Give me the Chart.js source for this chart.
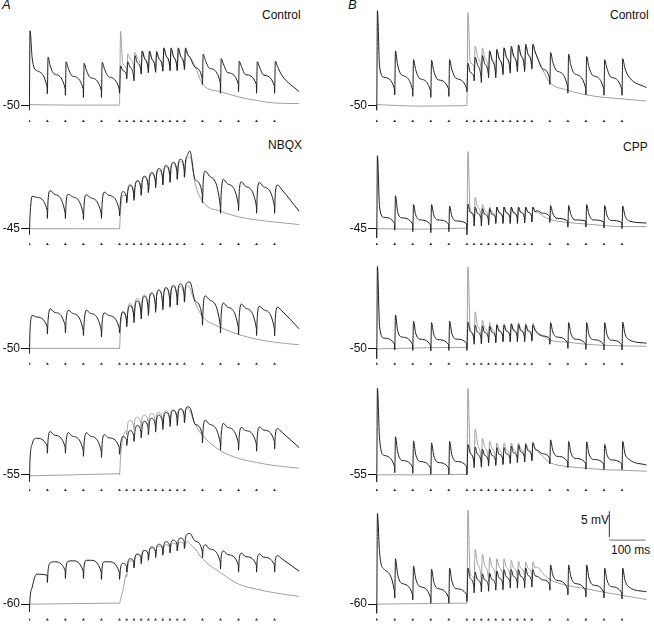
<!DOCTYPE html>
<html lang="en">
<head>
<meta charset="UTF-8">
<title>EPSP trains</title>
<script src="https://cdn.jsdelivr.net/npm/chart.js"></script>
<style>
  body { margin: 0; background: #fff; }
  #fig { position: relative; width: 654px; height: 630px; overflow: hidden; font-family: "Liberation Sans", Arial, sans-serif; }
  .panel { position: absolute; }
  .txt { position: absolute; font-size: 12px; line-height: 12px; color: #111; white-space: nowrap; }
  .letter { font-style: italic; font-size: 13px; }
</style>
</head>
<body>
<div id="fig">
  <div class="txt letter" style="left:2px;top:-1px">A</div>
  <div class="txt letter" style="left:348px;top:-1px">B</div>
  <div class="txt" style="left:262px;top:9px">Control</div>
  <div class="txt" style="left:268px;top:139px">NBQX</div>
  <div class="txt" style="left:610px;top:9px">Control</div>
  <div class="txt" style="left:623px;top:141px">CPP</div>
  <div class="txt" style="left:581px;top:514px">5 mV</div>
  <div class="txt" style="left:611px;top:544px">100 ms</div>
</div>

<script>
// stimulus times (ms): 5 at 20 Hz, 10 at 50 Hz, 5 at 20 Hz
const stimTimes = [0, 50, 100, 150, 200, 250, 270, 290, 310, 330, 350, 370, 390, 410, 430, 480, 530, 580, 630, 680];

// sample times (ms) of the traces
const tBlack = [
  -0.5, 0, 2, 8, 20, 49.5, 50, 52, 58, 70, 99.5, 100, 102, 108, 120, 149.5, 150, 152, 158, 170, 199.5, 200, 202, 208, 220,
  249.5, 250, 253, 259, 269.5, 270, 273, 279, 289.5, 290, 293, 299, 309.5, 310, 313, 319, 329.5, 330, 333, 339,
  349.5, 350, 353, 359, 369.5, 370, 373, 379, 389.5, 390, 393, 399, 409.5, 410, 413, 419, 429.5, 430, 433, 439,
  445, 460,
  479.5, 480, 482, 488, 500, 529.5, 530, 532, 538, 550, 579.5, 580, 582, 588, 600, 629.5, 630, 632, 638, 650, 679.5, 680, 682, 688, 700,
  748
];
const tGray = [
  -0.5, 125,
  249.5, 250, 253, 259, 269.5, 270, 273, 279, 289.5, 290, 293, 299, 309.5, 310, 313, 319, 329.5, 330, 333, 339,
  349.5, 350, 353, 359, 369.5, 370, 373, 379, 389.5, 390, 393, 399, 409.5, 410, 413, 419, 429.5, 430, 433, 439,
  445, 460, 480, 530, 580, 630, 680, 748
];

// membrane potential (mV), black = full train, gray = burst only
const ctlA_black = [
  -50.0, -50.9, -35.5, -40.8, -43.2, -46.5, -47.7, -40.6, -42.3, -43.9, -46.7, -48.0, -41.5, -42.8, -44.3,
  -46.8, -48.4, -41.8, -43.1, -44.6, -47.0, -48.4, -41.6, -42.8, -44.4,
  -46.8, -47.6, -42.3, -43.2, -44.1, -44.8, -41.5, -42.5, -44.5, -45.2, -40.3, -41.6, -43.3, -43.9, -39.4, -40.8,
  -43.0, -43.6, -39.4, -40.8, -43.0, -43.5, -39.5, -40.8, -42.7, -43.3, -38.8, -40.3, -42.4, -43.2, -38.8, -40.3,
  -42.7, -43.2, -38.8, -40.3, -42.4, -43.0, -38.8, -40.0,
  -40.6, -42.6,
  -44.8, -45.9, -40.0, -41.2, -42.8, -45.5, -47.6, -40.9, -41.9, -43.6, -45.8, -47.3, -41.4, -42.4, -44.0,
  -45.9, -47.6, -41.5, -42.5, -44.1, -46.2, -47.6, -41.4, -42.4, -44.1,
  -47.3
];
const ctlA_gray = [
  -49.8, -49.9,
  -49.9, -49.9, -35.6, -41.8, -43.0, -43.8, -40.0, -40.8, -42.7, -43.3, -39.7, -40.7, -43.0, -43.6, -39.4, -40.6,
  -43.0, -43.6, -39.5, -40.8, -43.0, -43.6, -39.7, -40.9, -42.8, -43.4, -39.0, -40.4, -42.6, -43.2, -39.2, -40.4,
  -42.6, -43.2, -39.0, -40.3, -42.5, -43.0, -39.2, -40.2,
  -40.6, -42.4, -45.8, -47.3, -48.3, -49.0, -49.5, -49.6
];
const nbqx_black = [
  -45.0, -46.2, -42.5, -38.7, -38.9, -41.4, -43.0, -39.5, -37.6, -38.3, -42.0, -43.0, -40.0, -38.3, -38.8,
  -42.2, -43.2, -40.2, -38.4, -39.0, -42.1, -43.0, -40.0, -37.9, -38.5,
  -41.4, -42.5, -39.5, -37.8, -38.8, -40.0, -37.8, -36.6, -38.2, -39.5, -37.0, -35.7, -37.2, -38.5, -35.8, -34.8,
  -36.6, -38.0, -35.2, -34.1, -35.7, -37.0, -34.3, -33.3, -35.1, -36.5, -33.7, -32.7, -34.5, -36.0, -33.0, -32.1,
  -33.9, -35.4, -32.5, -31.5, -33.5, -35.0, -32.0, -30.6,
  -29.9, -35.5,
  -38.3, -40.0, -36.0, -33.8, -34.8, -40.6, -42.0, -38.2, -35.4, -36.3, -40.3, -41.5, -37.8, -35.9, -36.8,
  -40.6, -42.0, -38.2, -36.0, -36.9, -40.6, -42.0, -38.0, -36.5, -37.4,
  -41.6
];
const nbqx_gray = [
  -45.0, -45.0,
  -45.0, -45.1, -41.5, -38.5, -38.6, -39.5, -37.3, -36.4, -38.0, -39.0, -36.8, -35.6, -37.3, -38.3, -36.0, -35.0,
  -36.8, -37.8, -35.4, -34.3, -36.0, -37.0, -34.6, -33.6, -35.4, -36.4, -34.0, -33.0, -34.8, -35.8, -33.3, -32.4,
  -34.3, -35.3, -32.8, -31.9, -33.8, -34.8, -32.4, -31.2,
  -31.0, -36.3, -39.7, -41.6, -42.7, -43.3, -43.7, -44.2
];
const a50_black = [
  -50.0, -51.0, -46.5, -43.6, -43.9, -45.8, -47.2, -44.5, -42.3, -43.0, -45.6, -47.0, -44.6, -42.6, -43.2,
  -46.5, -47.5, -45.0, -42.6, -43.2, -46.5, -47.8, -45.0, -43.1, -43.6,
  -46.1, -47.0, -44.5, -42.9, -44.7, -45.8, -43.0, -41.7, -43.8, -45.0, -42.0, -40.8, -43.1, -44.3, -41.2, -39.9,
  -42.3, -43.6, -40.5, -39.3, -41.7, -43.0, -39.9, -38.7, -41.1, -42.5, -39.3, -38.2, -40.5, -42.0, -38.8, -37.8,
  -40.1, -41.6, -38.4, -37.5, -39.6, -41.0, -38.0, -37.2,
  -37.1, -40.8,
  -44.1, -45.5, -42.0, -39.8, -40.6, -45.6, -47.0, -43.5, -41.2, -42.0, -46.0, -47.4, -43.8, -41.4, -42.2,
  -46.1, -47.5, -44.0, -41.8, -42.5, -46.2, -47.6, -44.2, -42.0, -42.7,
  -46.2
];
const a50_gray = [
  -50.0, -50.0,
  -50.0, -50.1, -45.5, -43.0, -44.3, -45.0, -42.5, -41.3, -43.3, -44.0, -41.3, -40.3, -42.6, -43.5, -40.6, -39.6,
  -42.0, -43.0, -40.1, -39.2, -41.5, -42.5, -39.6, -38.7, -41.0, -42.0, -39.2, -38.4, -40.6, -41.6, -38.9, -38.1,
  -40.3, -41.3, -38.7, -38.0, -40.0, -41.0, -38.4, -37.8,
  -38.3, -41.2, -43.8, -45.9, -47.3, -48.2, -48.8, -49.3
];
const a55_black = [
  -55.0, -56.4, -52.0, -49.0, -47.9, -49.4, -50.8, -48.2, -46.6, -47.3, -49.6, -50.8, -48.6, -46.8, -47.5,
  -50.2, -51.4, -48.8, -46.8, -47.5, -50.4, -51.6, -48.9, -47.2, -47.8,
  -49.7, -51.0, -49.0, -47.6, -48.2, -49.3, -47.5, -46.4, -47.4, -48.5, -46.5, -45.4, -46.7, -47.8, -45.6, -44.6,
  -46.0, -47.2, -44.9, -44.0, -45.5, -46.7, -44.3, -43.4, -44.9, -46.2, -43.8, -42.9, -44.3, -45.6, -43.3, -42.5,
  -44.0, -45.4, -43.0, -42.2, -43.5, -44.9, -42.6, -41.8,
  -41.9, -45.2,
  -47.2, -48.8, -46.0, -44.4, -45.2, -48.8, -50.2, -47.3, -45.0, -45.8, -48.8, -50.2, -47.5, -45.8, -46.4,
  -49.0, -50.4, -47.6, -45.7, -46.3, -48.5, -50.0, -47.3, -46.0, -46.7,
  -49.7
];
const a55_gray = [
  -55.2, -55.0,
  -54.8, -55.0, -51.5, -48.0, -46.5, -47.2, -45.0, -44.4, -45.5, -46.2, -44.2, -43.8, -45.0, -45.8, -43.8, -43.4,
  -44.8, -45.6, -43.5, -43.1, -44.6, -45.4, -43.2, -42.9, -44.3, -45.1, -42.9, -42.6, -44.0, -44.8, -42.7, -42.4,
  -43.8, -44.6, -42.5, -42.2, -43.6, -44.4, -42.3, -42.0,
  -42.5, -45.2, -47.3, -50.3, -51.8, -52.6, -53.2, -53.7
];
const a60_black = [
  -60.0, -61.5, -58.8, -56.7, -54.2, -54.4, -55.8, -53.5, -52.0, -51.8, -53.5, -55.0, -52.8, -51.7, -51.6,
  -53.6, -55.0, -52.6, -51.5, -51.5, -53.8, -55.2, -52.8, -51.8, -51.8,
  -53.8, -55.2, -53.0, -52.1, -52.7, -53.8, -52.0, -51.2, -51.8, -53.0, -51.0, -50.3, -51.0, -52.2, -50.3, -49.6,
  -50.3, -51.5, -49.6, -48.9, -49.7, -51.0, -49.0, -48.4, -49.2, -50.5, -48.5, -47.9, -48.8, -50.1, -48.1, -47.6,
  -48.4, -49.7, -47.7, -47.2, -47.9, -49.2, -47.2, -46.4,
  -46.3, -47.8,
  -49.7, -51.0, -49.2, -48.5, -49.3, -51.8, -53.2, -50.8, -49.7, -50.4, -52.4, -53.8, -51.2, -50.1, -50.8,
  -52.4, -53.8, -51.3, -50.3, -50.9, -52.4, -53.8, -51.5, -50.6, -51.2,
  -53.6
];
const a60_gray = [
  -60.0, -59.9,
  -59.8, -59.9, -59.0, -57.5, -54.2, -54.7, -52.7, -51.6, -51.8, -52.6, -50.9, -50.4, -50.8, -51.6, -50.1, -49.6,
  -50.2, -51.0, -49.6, -49.2, -49.8, -50.6, -49.2, -48.8, -49.4, -50.2, -48.9, -48.5, -49.0, -49.8, -48.5, -48.2,
  -48.7, -49.5, -48.3, -48.0, -48.5, -49.2, -48.0, -47.9,
  -48.3, -49.3, -51.2, -53.9, -56.1, -57.1, -57.8, -58.5
];
const ctlB_black = [
  -50.0, -50.9, -31.6, -42.4, -44.5, -46.8, -47.9, -39.4, -42.1, -44.1, -47.0, -48.2, -41.1, -43.0, -44.8,
  -47.2, -48.4, -41.2, -43.2, -45.0, -46.8, -48.2, -41.1, -42.9, -44.7,
  -46.7, -47.3, -41.8, -43.5, -44.5, -45.2, -40.6, -42.0, -44.8, -45.5, -40.3, -41.8, -43.9, -44.6, -39.4, -41.0,
  -43.9, -44.6, -39.1, -40.8, -43.3, -44.0, -38.8, -40.5, -43.0, -43.7, -38.5, -40.2, -42.7, -43.4, -38.2, -40.0,
  -42.7, -43.4, -38.1, -39.9, -42.1, -42.8, -38.1, -39.5,
  -40.6, -42.9,
  -44.8, -45.9, -39.7, -41.5, -43.3, -46.4, -47.6, -40.0, -42.1, -43.9, -46.7, -47.9, -40.5, -42.4, -44.2,
  -46.8, -48.0, -41.1, -42.7, -44.5, -46.8, -48.0, -40.9, -42.7, -44.5,
  -46.5
];
const ctlB_gray = [
  -49.8, -50.1,
  -50.0, -50.0, -32.0, -41.5, -42.4, -43.3, -38.5, -40.3, -43.0, -43.6, -38.8, -40.6, -43.0, -43.6, -39.4, -40.8,
  -43.2, -43.8, -39.3, -40.8, -43.0, -43.6, -38.8, -40.5, -42.8, -43.4, -38.8, -40.4, -42.6, -43.2, -38.5, -40.2,
  -42.6, -43.2, -38.3, -40.0, -42.4, -43.0, -38.2, -39.6,
  -40.6, -43.0, -45.5, -47.0, -47.9, -48.4, -48.7, -49.1
];
const cpp_black = [
  -45.0, -46.8, -30.8, -40.8, -42.8, -44.0, -45.3, -38.6, -41.7, -42.9, -44.1, -45.6, -40.3, -42.3, -43.3,
  -44.3, -45.8, -40.3, -42.3, -43.3, -44.1, -45.6, -40.6, -42.5, -43.5,
  -44.1, -46.2, -40.2, -41.8, -42.9, -44.5, -40.8, -42.0, -43.2, -44.5, -41.1, -42.2, -43.2, -44.3, -41.1, -42.2,
  -42.9, -44.0, -40.8, -41.9, -42.9, -44.0, -40.8, -41.9, -42.9, -44.0, -40.8, -41.9, -42.9, -44.0, -40.8, -41.8,
  -42.8, -43.9, -40.8, -41.8, -42.6, -43.7, -40.8, -41.7,
  -41.5, -42.0,
  -42.7, -43.8, -40.5, -42.0, -43.0, -43.5, -44.7, -40.5, -42.2, -43.3, -43.5, -44.7, -40.3, -42.1, -43.3,
  -43.7, -44.9, -40.5, -42.3, -43.4, -43.8, -45.0, -40.6, -42.4, -43.5,
  -43.9
];
const cpp_gray = [
  -45.0, -45.1,
  -44.9, -45.0, -30.0, -41.2, -42.5, -43.5, -38.9, -40.6, -42.8, -43.8, -40.3, -41.4, -43.0, -43.9, -40.8, -41.8,
  -42.9, -43.8, -40.8, -41.8, -42.9, -43.8, -40.8, -41.8, -42.9, -43.8, -40.8, -41.8, -42.8, -43.7, -40.8, -41.8,
  -42.8, -43.7, -40.8, -41.7, -42.6, -43.5, -40.8, -41.7,
  -41.8, -42.5, -43.2, -43.8, -44.1, -44.4, -44.6, -44.6
];
const b50_black = [
  -50.0, -52.0, -34.1, -45.8, -48.0, -49.2, -50.3, -43.5, -46.5, -47.8, -49.3, -50.4, -44.7, -47.0, -48.2,
  -49.4, -50.5, -45.0, -47.2, -48.3, -49.3, -50.4, -44.7, -47.0, -48.2,
  -49.0, -50.4, -44.9, -46.7, -48.2, -49.2, -45.5, -46.8, -48.1, -49.1, -45.6, -46.9, -47.9, -48.9, -45.7, -46.8,
  -47.9, -48.9, -45.5, -46.6, -47.7, -48.7, -45.5, -46.6, -47.7, -48.7, -45.3, -46.5, -47.7, -48.7, -45.3, -46.5,
  -47.7, -48.7, -45.5, -46.6, -47.6, -48.6, -45.5, -46.5,
  -47.0, -47.6,
  -48.1, -49.2, -45.0, -46.8, -47.8, -49.0, -50.0, -45.0, -47.0, -48.2, -49.2, -50.2, -45.0, -47.2, -48.3,
  -49.3, -50.3, -45.0, -47.2, -48.4, -49.3, -50.3, -44.9, -47.1, -48.3,
  -49.0
];
const b50_gray = [
  -50.1, -49.9,
  -49.8, -49.9, -34.2, -46.0, -47.6, -48.5, -42.9, -45.5, -47.9, -48.8, -44.5, -46.0, -47.9, -48.8, -45.0, -46.3,
  -47.8, -48.7, -45.2, -46.4, -47.7, -48.6, -45.2, -46.4, -47.7, -48.6, -45.1, -46.3, -47.6, -48.5, -45.0, -46.3,
  -47.6, -48.5, -45.1, -46.3, -47.5, -48.4, -45.1, -46.2,
  -46.8, -47.5, -48.4, -48.8, -49.2, -49.4, -49.5, -49.6
];
const b55_black = [
  -55.0, -56.4, -38.2, -48.0, -51.2, -53.4, -54.6, -47.6, -50.5, -52.2, -53.5, -54.7, -48.4, -51.0, -52.4,
  -53.7, -54.9, -48.8, -51.2, -52.6, -53.7, -54.9, -48.5, -51.0, -52.4,
  -53.4, -55.0, -49.1, -50.8, -52.6, -53.6, -49.6, -51.0, -52.5, -53.5, -50.0, -51.2, -52.3, -53.3, -50.0, -51.2,
  -52.2, -53.2, -49.7, -51.0, -52.0, -53.0, -49.7, -50.9, -51.8, -52.8, -49.4, -50.7, -51.6, -52.6, -49.2, -50.5,
  -51.5, -52.5, -49.1, -50.3, -51.2, -52.2, -48.8, -50.0,
  -50.2, -50.9,
  -51.8, -52.9, -48.2, -50.2, -51.4, -52.5, -53.6, -48.5, -50.6, -51.8, -52.8, -53.9, -48.6, -50.8, -52.0,
  -52.9, -54.0, -49.1, -51.0, -52.1, -52.9, -54.0, -48.5, -50.8, -52.0,
  -53.1
];
const b55_gray = [
  -55.0, -55.0,
  -54.9, -55.0, -38.2, -50.2, -52.0, -52.8, -46.1, -48.8, -52.3, -53.1, -47.9, -49.5, -52.2, -53.0, -48.5, -49.8,
  -52.1, -52.9, -48.8, -50.0, -52.0, -52.8, -48.8, -50.0, -51.9, -52.7, -48.8, -50.0, -51.8, -52.6, -48.8, -49.9,
  -51.7, -52.5, -48.8, -49.9, -51.5, -52.3, -48.6, -49.8,
  -50.3, -51.4, -52.6, -53.4, -53.7, -54.0, -54.1, -54.3
];
const b60_black = [
  -60.0, -61.8, -42.4, -50.0, -53.2, -57.7, -58.8, -51.2, -54.2, -56.0, -58.2, -59.2, -52.6, -55.0, -56.6,
  -58.8, -59.8, -53.2, -55.6, -57.0, -58.8, -59.8, -53.0, -55.4, -57.0,
  -58.2, -59.5, -53.0, -55.0, -56.7, -57.8, -53.8, -55.2, -56.5, -57.6, -54.1, -55.3, -56.4, -57.5, -54.0, -55.2,
  -56.2, -57.3, -53.6, -54.9, -56.1, -57.2, -53.3, -54.7, -55.8, -56.9, -53.3, -54.6, -55.8, -56.9, -53.3, -54.6,
  -55.7, -56.8, -53.0, -54.4, -55.6, -56.7, -53.3, -54.5,
  -54.6, -55.3,
  -56.2, -57.3, -52.4, -54.3, -55.4, -57.1, -58.2, -52.4, -54.6, -56.0, -57.5, -58.6, -52.4, -54.8, -56.3,
  -57.7, -58.8, -53.0, -55.2, -56.6, -57.9, -59.0, -53.0, -55.3, -56.7,
  -57.6
];
const b60_gray = [
  -60.0, -59.9,
  -59.8, -59.9, -41.8, -54.0, -55.0, -55.8, -49.4, -52.0, -55.0, -55.8, -50.3, -52.4, -54.9, -55.7, -50.9, -52.7,
  -54.7, -55.5, -51.2, -52.8, -54.6, -55.4, -51.2, -52.8, -54.5, -55.3, -51.5, -52.9, -54.4, -55.2, -51.7, -53.0,
  -54.3, -55.1, -51.8, -53.0, -54.2, -55.0, -51.8, -53.0,
  -52.8, -54.0, -55.2, -56.4, -57.0, -57.7, -58.3, -59.1
];

// holding potential of each row (mV)
const rowBase = [-50, -45, -50, -55, -60];

// layout
const PX_PER_MS = 0.366;
const PX_PER_MV = 5.5;
const AXIS_W = 29;
const CANVAS_W = 306;
const cols = [{ left: 0, t0: 29.3 }, { left: 347, t0: 376.7 }];
const rows = [
  { top: 0, h: 130, yBase: 108.3 },
  { top: 130, h: 122, yBase: 231.3 },
  { top: 252, h: 125, yBase: 350.7 },
  { top: 377, h: 124, yBase: 477.3 },
  { top: 501, h: 129, yBase: 606.7 }
];
const STIM_BELOW = 3.0;  // mV under the holding potential for stimulus marks
const scaleBar = { t: 645, v: -47.6, ms: 100, mV: 5 };

const BLACK = '#1c1c1c';
const GRAY = '#a0a0a0';
const FONT = '"Liberation Sans", Arial, sans-serif';

const panels = [
  { col: 0, row: 0, k: ctlA_black, g: ctlA_gray },
  { col: 0, row: 1, k: nbqx_black, g: nbqx_gray },
  { col: 0, row: 2, k: a50_black, g: a50_gray },
  { col: 0, row: 3, k: a55_black, g: a55_gray },
  { col: 0, row: 4, k: a60_black, g: a60_gray },
  { col: 1, row: 0, k: ctlB_black, g: ctlB_gray },
  { col: 1, row: 1, k: cpp_black, g: cpp_gray },
  { col: 1, row: 2, k: b50_black, g: b50_gray },
  { col: 1, row: 3, k: b55_black, g: b55_gray },
  { col: 1, row: 4, k: b60_black, g: b60_gray, bar: true }
];

const zip = (xs, ys) => xs.map((x, i) => ({ x: x, y: ys[i] }));
const fig = document.getElementById('fig');

panels.forEach(p => {
  const c = cols[p.col], r = rows[p.row], base = rowBase[p.row];
  const box = document.createElement('div');
  box.className = 'panel';
  box.style.left = c.left + 'px';
  box.style.top = r.top + 'px';
  box.style.width = CANVAS_W + 'px';
  box.style.height = r.h + 'px';
  const cv = document.createElement('canvas');
  box.appendChild(cv);
  fig.appendChild(box);

  const xMin = (c.left + AXIS_W - c.t0) / PX_PER_MS;
  const xMax = xMin + (CANVAS_W - AXIS_W) / PX_PER_MS;
  const yMax = base + (r.yBase - r.top) / PX_PER_MV;
  const yMin = base - (r.top + r.h - r.yBase) / PX_PER_MV;

  const trace = (data, color) => ({
    data: data, borderColor: color, borderWidth: 1, pointRadius: 0,
    cubicInterpolationMode: 'monotone', fill: false
  });
  const datasets = [
    trace(zip(tBlack, p.k), BLACK),
    trace(zip(tGray, p.g), GRAY),
    {
      data: stimTimes.map(t => ({ x: t, y: base - STIM_BELOW })),
      showLine: false, pointStyle: 'triangle', pointRadius: 1.7,
      backgroundColor: '#333', borderColor: '#333', borderWidth: 0
    }
  ];
  if (p.bar) {
    datasets.push({
      data: [{ x: scaleBar.t, y: scaleBar.v + 0.6 }, { x: scaleBar.t, y: scaleBar.v + 0.6 + scaleBar.mV }],
      borderColor: '#333', borderWidth: 1, pointRadius: 0
    });
    datasets.push({
      data: [{ x: scaleBar.t, y: scaleBar.v }, { x: scaleBar.t + scaleBar.ms, y: scaleBar.v }],
      borderColor: '#8c8c8c', borderWidth: 1.2, pointRadius: 0
    });
  }

  new Chart(cv, {
    type: 'line',
    data: { datasets: datasets },
    options: {
      animation: false,
      responsive: true,
      maintainAspectRatio: false,
      events: [],
      layout: { padding: 0 },
      plugins: { legend: { display: false }, tooltip: { enabled: false } },
      scales: {
        x: { type: 'linear', display: false, min: xMin, max: xMax },
        y: {
          type: 'linear', position: 'left', min: yMin, max: yMax,
          afterFit: s => { s.width = AXIS_W; s.paddingTop = 0; s.paddingBottom = 0; },
          afterBuildTicks: s => { s.ticks = [{ value: base }]; },
          ticks: { callback: () => String(base), color: '#111', padding: 1, font: { family: FONT, size: 12 } },
          grid: { drawOnChartArea: false, tickLength: 8, color: '#111', lineWidth: 1 },
          border: { display: false }
        }
      }
    }
  });
});
</script>
</body>
</html>
